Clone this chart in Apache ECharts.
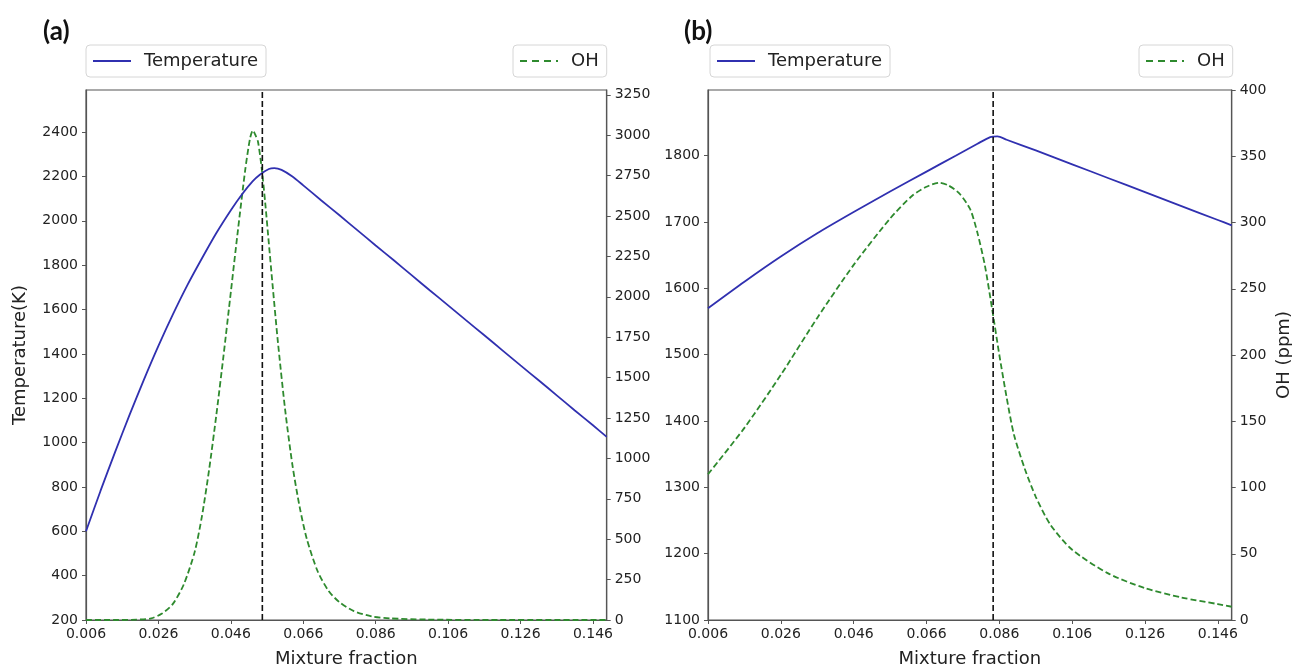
<!DOCTYPE html>
<html>
<head>
<meta charset="utf-8">
<script src="https://cdn.jsdelivr.net/npm/echarts@6/dist/echarts.min.js"></script>
<style>
html,body{margin:0;padding:0;background:#fff;}
#chart{width:1292px;height:667px;}
</style>
</head>
<body>
<div id="chart"></div>
<script>
// ---------- data ----------
const panelLabels = ['(a)', '(b)'];
const xTickStart = 0.006;
const xTickStep = 0.02;
const xMax = 0.1498;

// Panel (a) temperature
const aTempX = [0.006,0.010,0.014,0.018,0.022,0.026,0.030,0.034,0.038,0.042,0.046,0.049,0.052,0.054,0.0565,0.058,0.060,0.063,0.066,0.071,0.076,0.081,0.086,0.091,0.096,0.101,0.106,0.111,0.116,0.121,0.126,0.131,0.136,0.141,0.146,0.1498];
const aTempY = [600,782,956,1124,1284,1436,1578,1710,1830,1945,2048,2118,2178,2208,2234,2238,2230,2200,2160,2092,2025,1957,1889,1822,1754,1686,1619,1551,1484,1416,1348,1281,1213,1145,1078,1026];
// Panel (a) OH
const aOHX = [0.006,0.015,0.020,0.024,0.027,0.030,0.033,0.036,0.038,0.040,0.042,0.044,0.046,0.048,0.050,0.0513,0.0521,0.0528,0.0535,0.0545,0.0555,0.0565,0.0575,0.059,0.061,0.063,0.065,0.067,0.070,0.073,0.076,0.080,0.085,0.090,0.100,0.120,0.1498];
const aOHY = [0,0,2,10,40,100,220,420,640,930,1270,1640,2030,2420,2790,2980,3030,3000,2960,2800,2580,2330,2080,1720,1300,960,700,500,300,180,110,55,22,10,3,0,0];
const aStoich = 0.0547;

// Panel (b) temperature
const bTempX = [0.006,0.016,0.026,0.036,0.046,0.056,0.066,0.074,0.080,0.0835,0.0855,0.088,0.096,0.106,0.116,0.126,0.136,0.146,0.1498];
const bTempY = [1570,1610,1648,1683,1715,1746,1776,1800,1818,1828,1829,1824,1808,1787,1766,1745,1724,1703,1695];
// Panel (b) OH
const bOHX = [0.006,0.016,0.026,0.036,0.046,0.056,0.062,0.066,0.0695,0.072,0.075,0.078,0.080,0.082,0.084,0.086,0.088,0.090,0.093,0.096,0.100,0.106,0.116,0.126,0.136,0.146,0.1498];
const bOHY = [110,145,185,228,268,303,320,327,330,328,322,310,292,268,235,200,168,140,114,93,72,53,35,24,17,12,10];
const bStoich = 0.0843;

// axis ranges / ticks
const aTempAxis = {min: 200, max: 2590, interval: 200};
const aOHAxis = {min: 0, max: 3280, interval: 250};
const bTempAxis = {min: 1100, max: 1899, interval: 100};
const bOHAxis = {min: 0, max: 400, interval: 50};

const seriesNames = ['Temperature', 'OH'];
const xLabel = 'Mixture fraction';
const tempLabel = 'Temperature(K)';
const ohLabel = 'OH (ppm)';

// ---------- helpers ----------
const zip = (xs, ys) => xs.map((x, i) => [x, ys[i]]);
const FONT = 'DejaVu Sans';
const TXT = '#222';
const AX = '#555';
const BLUE = '#3030b0';
const GREEN = '#2e8a2e';

function xAxis(gridIndex) {
  return {
    type: 'value', gridIndex, min: xTickStart, max: xMax, interval: xTickStep,
    name: xLabel, nameLocation: 'middle', nameGap: 30,
    nameTextStyle: {fontFamily: FONT, fontSize: 18, color: TXT},
    axisLine: {show: true, lineStyle: {color: AX, width: 1.2}},
    axisTick: {show: true, length: 4, lineStyle: {color: AX}},
    axisLabel: {fontFamily: FONT, fontSize: 14, color: TXT, margin: 7, showMaxLabel: false,
      formatter: v => (Math.round(v * 1000) / 1000).toFixed(3)},
    splitLine: {show: false}
  };
}
function yAxis(gridIndex, cfg, position, name, nameGap, hideMax) {
  return {
    type: 'value', gridIndex, position, min: cfg.min, max: cfg.max, interval: cfg.interval,
    name: name || '', nameLocation: 'middle', nameGap: nameGap || 0, nameRotate: 90,
    nameTextStyle: {fontFamily: FONT, fontSize: 18, color: TXT},
    axisLine: {show: true, onZero: false, lineStyle: {color: AX, width: 1.2}},
    axisTick: {show: true, length: 4, lineStyle: {color: AX}},
    axisLabel: {fontFamily: FONT, fontSize: 14, color: TXT, margin: 8, showMaxLabel: !hideMax,
      formatter: v => String(Math.round(v))},
    splitLine: {show: false}
  };
}
function legend(text, left, top, dashed) {
  const l = {
    data: [text], left, top, orient: 'horizontal',
    backgroundColor: '#fff', borderColor: '#d6d6d6', borderWidth: 1, borderRadius: 4,
    padding: [7, 8, 7, 6], itemWidth: 38, itemHeight: 14,
    itemStyle: {opacity: 0},
    textStyle: {fontFamily: FONT, fontSize: 18, color: TXT, padding: [0, 0, 0, 8]},
    selectedMode: false
  };
  if (dashed) l.lineStyle = {type: [7, 5], width: 2};
  else l.lineStyle = {width: 2};
  return l;
}
function lineSeries(name, xi, yi, data, color, dashed) {
  return {
    name, type: 'line', xAxisIndex: xi, yAxisIndex: yi, data,
    showSymbol: false, symbol: 'none', smooth: 0.25,
    lineStyle: {color, width: 1.8, type: dashed ? [6, 3] : 'solid'},
    itemStyle: {color}, z: dashed ? 3 : 4, silent: true, animation: false
  };
}
function stoichLine(xi, yi, x, cfg) {
  return {
    name: 'stoich', type: 'line', xAxisIndex: xi, yAxisIndex: yi,
    data: [[x, cfg.min], [x, cfg.max]], showSymbol: false, symbol: 'none',
    lineStyle: {color: '#111', width: 1.6, type: [6, 3]}, z: 5, silent: true, animation: false
  };
}

const chart = echarts.init(document.getElementById('chart'), null, {renderer: 'canvas'});
chart.setOption({
  backgroundColor: '#fff',
  animation: false,
  title: [
    {text: panelLabels[0], left: 38, top: 14, textStyle: {fontFamily: 'Lato', fontWeight: 'bold', fontSize: 26, color: '#111'}},
    {text: panelLabels[1], left: 679, top: 14, textStyle: {fontFamily: 'Lato', fontWeight: 'bold', fontSize: 26, color: '#111'}}
  ],
  legend: [
    legend(seriesNames[0], 86, 45, false),
    legend(seriesNames[1], 513, 45, true),
    legend(seriesNames[0], 710, 45, false),
    legend(seriesNames[1], 1139, 45, true)
  ],
  grid: [
    {left: 86, top: 90, width: 520.7, height: 530, show: true, borderColor: AX, borderWidth: 1.2, outerBoundsMode: 'none'},
    {left: 708, top: 90, width: 523.7, height: 530, show: true, borderColor: AX, borderWidth: 1.2, outerBoundsMode: 'none'}
  ],
  xAxis: [xAxis(0), xAxis(1)],
  yAxis: [
    yAxis(0, aTempAxis, 'left', tempLabel, 57, true),
    yAxis(0, aOHAxis, 'right', '', 0, true),
    yAxis(1, bTempAxis, 'left', '', 0, true),
    yAxis(1, bOHAxis, 'right', ohLabel, 44, false)
  ],
  series: [
    lineSeries(seriesNames[0], 0, 0, zip(aTempX, aTempY), BLUE, false),
    lineSeries(seriesNames[1], 0, 1, zip(aOHX, aOHY), GREEN, true),
    stoichLine(0, 0, aStoich, aTempAxis),
    lineSeries(seriesNames[0], 1, 2, zip(bTempX, bTempY), BLUE, false),
    lineSeries(seriesNames[1], 1, 3, zip(bOHX, bOHY), GREEN, true),
    stoichLine(1, 2, bStoich, bTempAxis)
  ]
});
</script>
</body>
</html>
